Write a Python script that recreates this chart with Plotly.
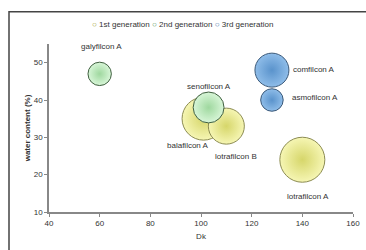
import plotly.graph_objects as go

lenses = ["galyfilcon A", "senofilcon A", "balafilcon A", "lotrafilcon B",
          "lotrafilcon A", "comfilcon A", "asmofilcon A"]
dk = [60, 103, 101, 110, 140, 128, 128]
water = [47, 38, 35, 33, 24, 48, 40]
bubble = [0.27, 0.47, 0.91, 0.64, 1.0, 0.57, 0.25]
generation = ["2nd", "2nd", "1st", "1st", "1st", "3rd", "3rd"]

gen_names = ["1st", "2nd", "3rd"]
gen_labels = ["1st generation", "2nd generation", "3rd generation"]
x_ticks = [40, 60, 80, 100, 120, 140, 160]
y_ticks = [10, 20, 30, 40, 50]

FONT = "Liberation Sans, Arial, sans-serif"
styles = {
    "1st": dict(center="#f6f6b4", edge="#d6d66a", line="#8c8c52", legend="#9a9a2a"),
    "2nd": dict(center="#d8f6d8", edge="#9fd89f", line="#3f5f3f", legend="#4f8f4f"),
    "3rd": dict(center="#8fbde9", edge="#5a93cc", line="#3a5878", legend="#3f6f9f"),
}
# label offsets (px) and anchors
label_pos = {
    "galyfilcon A": (2, 27, "center"),
    "senofilcon A": (0, 21, "center"),
    "balafilcon A": (-16, -27, "center"),
    "lotrafilcon B": (10, -30, "center"),
    "lotrafilcon A": (6, -37, "center"),
    "comfilcon A": (19, 1, "left"),
    "asmofilcon A": (18, 3, "left"),
}

sizeref = max(bubble) / (2 * 22.5 ** 2)

fig = go.Figure()
draw_order = [2, 3, 4, 0, 1, 5, 6]
for g in gen_names:
    idx = [i for i in draw_order if generation[i] == g]
    st = styles[g]
    fig.add_trace(go.Scatter(
        x=[dk[i] for i in idx], y=[water[i] for i in idx],
        mode="markers", showlegend=False, hoverinfo="skip",
        marker=dict(size=[bubble[i] for i in idx], sizemode="area", sizeref=sizeref,
                    color=st["center"],
                    gradient=dict(type="radial", color=st["edge"]),
                    line=dict(color=st["line"], width=1), opacity=1),
    ))

for i, name in enumerate(lenses):
    xs, ys, anc = label_pos[name]
    fig.add_annotation(x=dk[i], y=water[i], text=name, showarrow=False,
                       xshift=xs, yshift=ys, xanchor=anc,
                       font=dict(size=8, color="#333333", family=FONT))

# legend as a single line of text
legend_text = " ".join(
    f"<span style='color:{styles[g]['legend']}'><b>○</b></span>"
    f"<span style='color:#333333'> {lab}</span>"
    for g, lab in zip(gen_names, gen_labels))
fig.add_annotation(xref="paper", yref="paper", x=0.44, y=1 + (43.5 - 24) / 169,
                   xanchor="center", yanchor="middle", showarrow=False,
                   text=legend_text, font=dict(size=8, color="#333333", family=FONT))

axis_font = dict(size=8, color="#333333", family=FONT)
fig.update_xaxes(range=[40, 160], tickvals=x_ticks, showgrid=False, zeroline=False,
                 showline=True, linecolor="#888888", linewidth=1.5,
                 ticks="outside", ticklen=3, tickcolor="#888888",
                 tickfont=axis_font, automargin=False,
                 title=dict(text="Dk", font=axis_font, standoff=6))
fig.update_yaxes(range=[10, 55], tickvals=y_ticks, showgrid=False, zeroline=False,
                 showline=True, linecolor="#888888", linewidth=1.5,
                 ticks="outside", ticklen=3, tickcolor="#888888",
                 tickfont=axis_font, automargin=False,
                 title=dict(text="<b>water content (%)</b>", font=axis_font, standoff=2))

fig.add_shape(type="rect", xref="paper", yref="paper",
              x0=(9 - 49) / 304, x1=1.2, y0=-0.4, y1=1 + (43.5 - 11) / 169,
              line=dict(color="#444444", width=1.5), fillcolor="rgba(0,0,0,0)",
              layer="below")

fig.update_layout(
    template="none",
    width=366, height=250,
    margin=dict(l=49, r=13, t=43.5, b=37.5, autoexpand=False),
    paper_bgcolor="white", plot_bgcolor="white",
    font=dict(family=FONT, size=8, color="#333333"),
    showlegend=False,
)

fig.write_html("out.html", config={"displayModeBar": False},
               post_script="document.body.style.margin='0';document.body.style.overflow='hidden';")
